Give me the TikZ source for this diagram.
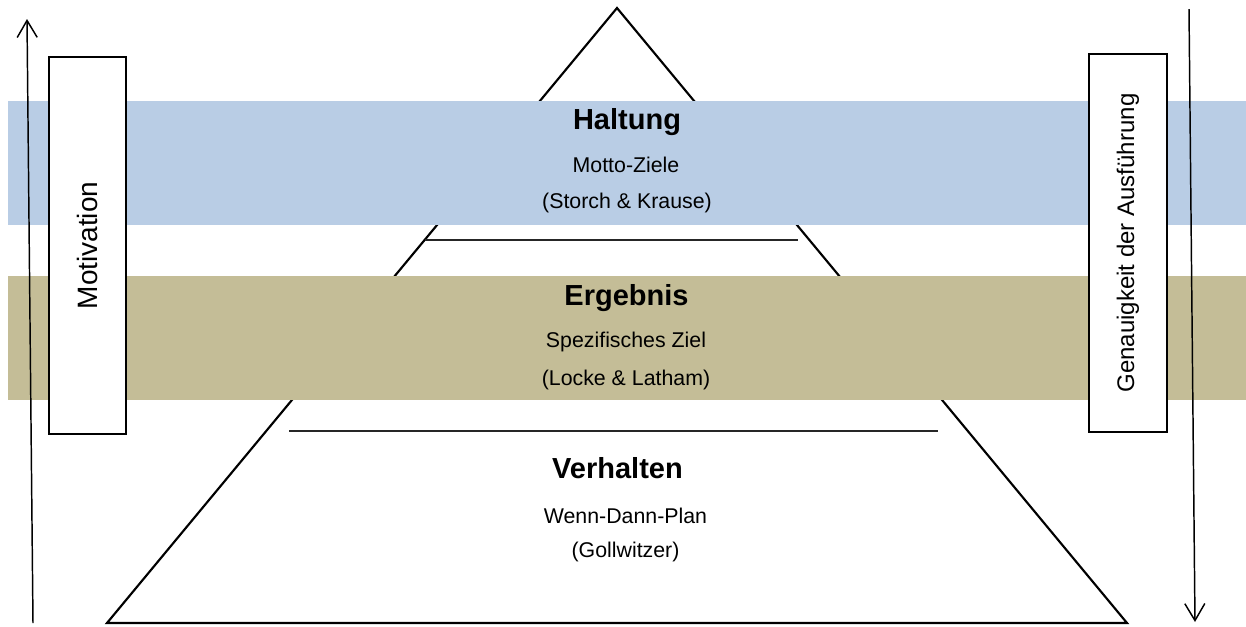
\documentclass[tikz,border=0pt]{standalone}
\usepackage{fontspec}
\setmainfont{Liberation Sans}
\usetikzlibrary{arrows.meta}
\definecolor{bandblue}{HTML}{B9CDE5}
\definecolor{bandtan}{HTML}{C4BD97}
\begin{document}
\begin{tikzpicture}[x=0.75pt,y=-0.75pt,
  pyr/.style={line width=1.6pt,line join=miter},
  sep/.style={line width=1.5pt,draw=black!85},
  arr/.style={line width=1.1pt,-{Straight Barb[length=12.75pt,width=15pt,line width=1.1pt]}},
  sidebox/.style={draw,line width=1.5pt,fill=white,rotate=90,inner sep=0pt},
  title/.style={anchor=base,font=\fontsize{21.75}{24}\selectfont\bfseries},
  sub/.style={anchor=base,font=\fontsize{16}{19}\selectfont}]
\useasboundingbox (0,0) rectangle (1246,626);
% pyramid
\coordinate (apex) at (617,8);
\coordinate (bl) at (107,623);
\coordinate (br) at (1127,623);
\draw[pyr] (bl) -- (apex) -- (br) -- cycle;
% bands
\fill[bandblue] (8,101) rectangle (1246,225);
\fill[bandtan] (8,276) rectangle (1246,400);
% separators
\coordinate (s1a) at (425,240); \coordinate (s1b) at (798,240);
\coordinate (s2a) at (289,431); \coordinate (s2b) at (938,431);
\draw[sep] (s1a) -- (s1b);
\draw[sep] (s2a) -- (s2b);
% arrows
\coordinate (la1) at (33,623); \coordinate (la2) at (27,19);
\coordinate (ra1) at (1189,9); \coordinate (ra2) at (1195,622);
\draw[arr] (la1) -- (la2);
\draw[arr] (ra1) -- (ra2);
% side boxes
\node[sidebox,minimum width=377*0.75pt,minimum height=77*0.75pt,font=\fontsize{21}{24}\selectfont] (mot) at (87.5,245.5) {Motivation};
\node[sidebox,minimum width=378*0.75pt,minimum height=78*0.75pt,font=\fontsize{18}{21}\selectfont] (gen) at (1128,243) {Genauigkeit der Ausführung};
% texts
\node[title] (t1) at (627,129) {Haltung};
\node[sub] (t1a) at (626,172) {Motto-Ziele};
\node[sub] (t1b) at (627,208) {(Storch \& Krause)};
\node[title] (t2) at (626.5,305) {Ergebnis};
\node[sub] (t2a) at (626,347) {Spezifisches Ziel};
\node[sub] (t2b) at (626,385) {(Locke \& Latham)};
\node[title] (t3) at (617.5,478) {Verhalten};
\node[sub] (t3a) at (625.5,523) {Wenn-Dann-Plan};
\node[sub] (t3b) at (625.5,557) {(Gollwitzer)};
\end{tikzpicture}
\end{document}
